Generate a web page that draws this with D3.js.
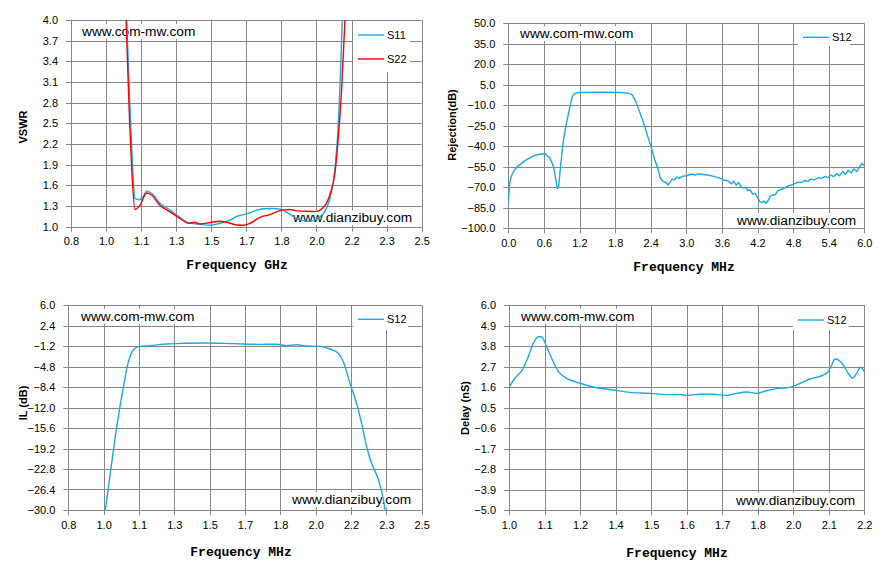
<!DOCTYPE html>
<html>
<head>
<meta charset="utf-8">
<script src="https://cdn.jsdelivr.net/npm/d3@7/dist/d3.min.js"></script>
<style>
  body { margin: 0; background: #fff; }
  text { font-family: "Liberation Sans", Arial, sans-serif; }
</style>
</head>
<body>
<svg id="chart"></svg>
<script>
const width = 884;
const height = 572;

// ---- tick values / labels ----
const ghzTicks = [0.8, 0.97, 1.14, 1.31, 1.48, 1.65, 1.82, 1.99, 2.16, 2.33, 2.5];
const ghzLabels = ["0.8", "1.0", "1.1", "1.3", "1.5", "1.7", "1.8", "2.0", "2.2", "2.3", "2.5"];
const vswrTicks = [1.0, 1.3, 1.6, 1.9, 2.2, 2.5, 2.8, 3.1, 3.4, 3.7, 4.0];

const rejXTicks = [0, 0.6, 1.2, 1.8, 2.4, 3.0, 3.6, 4.2, 4.8, 5.4, 6.0];
const rejYTicks = [-100, -85, -70, -55, -40, -25, -10, 5, 20, 35, 50];

const ilYTicks = [-30, -26.4, -22.8, -19.2, -15.6, -12, -8.4, -4.8, -1.2, 2.4, 6];

const delayXTicks = [1.0, 1.12, 1.24, 1.36, 1.48, 1.6, 1.72, 1.84, 1.96, 2.08, 2.2];
const delayXLabels = ["1.0", "1.1", "1.2", "1.4", "1.5", "1.6", "1.7", "1.8", "2.0", "2.1", "2.2"];
const delayYTicks = [-5, -3.9, -2.8, -1.7, -0.6, 0.5, 1.6, 2.7, 3.8, 4.9, 6];

// ---- VSWR (GHz) ----
const s11Freq = [1.070, 1.085, 1.097, 1.110, 1.130, 1.150, 1.167, 1.191, 1.231, 1.280, 1.328, 1.369, 1.425, 1.474,
  1.522, 1.571, 1.603, 1.652, 1.700, 1.732, 1.780, 1.813, 1.862, 1.910, 1.959, 2.007, 2.040, 2.064, 2.080, 2.096, 2.106, 2.115];
const s11Vswr = [4.0, 2.8, 1.97, 1.41, 1.39, 1.44, 1.52, 1.485, 1.34, 1.24, 1.135, 1.06, 1.035, 1.02,
  1.05, 1.095, 1.15, 1.185, 1.24, 1.26, 1.265, 1.255, 1.18, 1.095, 1.08, 1.14, 1.28, 1.52, 1.86, 2.5, 3.2, 4.0];

const s22Freq = [1.067, 1.083, 1.095, 1.110, 1.134, 1.167, 1.190, 1.231, 1.280, 1.328, 1.369, 1.401, 1.425, 1.474,
  1.522, 1.555, 1.603, 1.635, 1.668, 1.716, 1.765, 1.822, 1.862, 1.894, 1.943, 1.983, 2.023, 2.056, 2.080, 2.096, 2.112, 2.128];
const s22Vswr = [4.0, 2.6, 1.8, 1.25, 1.31, 1.49, 1.46, 1.31, 1.215, 1.12, 1.05, 1.065, 1.04, 1.06,
  1.08, 1.065, 1.025, 1.02, 1.05, 1.135, 1.175, 1.24, 1.25, 1.23, 1.225, 1.22, 1.28, 1.475, 1.79, 2.3, 3.0, 4.0];

// ---- Rejection (S12) ----
const rejFreq = [0.00, 0.02, 0.05, 0.10, 0.17, 0.28, 0.42, 0.53, 0.62, 0.70, 0.76, 0.80, 0.825, 0.85, 0.88, 0.925,
  0.98, 1.04, 1.08, 1.12, 1.21, 1.54, 1.88, 2.02, 2.09, 2.16, 2.22, 2.28, 2.36, 2.41, 2.47, 2.52, 2.56, 2.60,
  2.66, 2.69, 2.73, 2.76, 2.80, 2.84, 2.88, 2.94, 3.00, 3.06, 3.11, 3.15, 3.20, 3.28, 3.36, 3.45, 3.52, 3.58,
  3.64, 3.70, 3.76, 3.80, 3.84, 3.88, 3.92, 3.96, 4.00, 4.04, 4.08, 4.12, 4.16, 4.20, 4.24, 4.28, 4.31, 4.34,
  4.38, 4.42, 4.46, 4.50, 4.54, 4.58, 4.64, 4.70, 4.76, 4.82, 4.88, 4.94, 5.00, 5.05, 5.10, 5.16, 5.22, 5.28,
  5.34, 5.38, 5.44, 5.48, 5.54, 5.58, 5.64, 5.68, 5.73, 5.78, 5.82, 5.87, 5.92, 5.96, 6.00];
const rejS12 = [-82, -68, -62, -57.5, -54.3, -50.5, -47.2, -45.6, -45.5, -48.5, -54.5, -64, -71, -69, -55, -37,
  -23, -11, -3.5, -1.1, -0.6, -0.4, -0.6, -1.1, -2.3, -8.4, -15.7, -23, -34, -41, -50, -56, -63, -65.5,
  -66.5, -68.4, -66, -64, -64.5, -62.5, -63.5, -61.8, -61.5, -60.8, -60.3, -61, -60.2, -60.6, -61, -61.8, -62.8, -63.5,
  -64.8, -65.2, -67.5, -65.5, -68.5, -66.5, -69.5, -70.5, -70, -72.5, -72, -75, -74.5, -77.5, -80.5, -81, -80, -81.8,
  -79.5, -76.5, -75.5, -75.5, -72.5, -71.8, -71, -69.2, -68.5, -67.5, -66.2, -66.5, -65, -65.5, -64, -64.5, -63, -63.5,
  -62, -63, -61, -62.3, -60, -61.5, -58.5, -60.5, -57.5, -59.5, -56.5, -58.5, -55, -52.5, -54];

// ---- Insertion loss (S12) ----
const ilFreq = [0.978, 1.0, 1.033, 1.068, 1.089, 1.113, 1.137, 1.193, 1.273, 1.353, 1.466, 1.594, 1.722, 1.802,
  1.850, 1.899, 1.947, 2.011, 2.059, 2.099, 2.123, 2.155, 2.187, 2.211, 2.235, 2.259, 2.292, 2.316, 2.324];
const ilS12 = [-30, -24.1, -15.4, -7.8, -4.0, -1.9, -1.3, -1.14, -0.85, -0.73, -0.67, -0.79, -0.91, -0.9,
  -1.14, -0.97, -1.2, -1.26, -1.73, -2.49, -3.95, -7.76, -11.3, -14.8, -18.9, -21.8, -24.7, -28.2, -30];

// ---- Group delay (S12) ----
const delayFreq = [1.0, 1.02, 1.046, 1.065, 1.082, 1.099, 1.11, 1.127, 1.144, 1.167, 1.189, 1.24, 1.296, 1.352,
  1.409, 1.476, 1.532, 1.577, 1.6, 1.645, 1.69, 1.735, 1.769, 1.803, 1.836, 1.87, 1.904, 1.949, 1.983, 2.016,
  2.061, 2.078, 2.09, 2.101, 2.112, 2.129, 2.146, 2.161, 2.174, 2.188, 2.2];
const delayS12 = [1.58, 2.07, 2.55, 3.23, 3.94, 4.30, 4.30, 3.76, 3.14, 2.42, 2.12, 1.80, 1.56, 1.44,
  1.31, 1.26, 1.19, 1.19, 1.15, 1.21, 1.21, 1.15, 1.26, 1.33, 1.26, 1.40, 1.51, 1.58, 1.80, 2.03,
  2.24, 2.42, 2.78, 3.10, 3.05, 2.78, 2.33, 2.07, 2.33, 2.66, 2.42];

const blue = "#1aa9e4";
const red = "#ff0000";
const gridColor = "#868686";

const svg = d3.select("#chart").attr("width", width).attr("height", height);
svg.append("rect").attr("width", width).attr("height", height).attr("fill", "#fff");

const zip = (xs, ys) => xs.map((d, i) => [d, ys[i]]);

const panels = [
  {
    id: "vswr", left: 71, right: 421.7, top: 20, bottom: 226.7,
    xDomain: [0.8, 2.5], yDomain: [1, 4],
    xTicks: ghzTicks, xLabels: ghzLabels, yTicks: vswrTicks, yFmt: d3.format(".1f"),
    xTitle: "Frequency GHz", xTitlePos: [237, 269], yTitle: "VSWR", yTitlePos: [23, 127],
    series: [
      { name: "S11", data: zip(s11Freq, s11Vswr), color: blue, curve: d3.curveMonotoneX },
      { name: "S22", data: zip(s22Freq, s22Vswr), color: red, curve: d3.curveMonotoneX }
    ],
    legend: { x: 353, y: 21, w: 57, h: 51, rows: [35, 59] },
    mark1: [82, 31], mark2: [293, 217.5]
  },
  {
    id: "rej", left: 508.3, right: 864.3, top: 23.3, bottom: 228.3,
    xDomain: [0, 6], yDomain: [-100, 50],
    xTicks: rejXTicks, xLabels: rejXTicks.map(d3.format(".1f")), yTicks: rejYTicks, yFmt: d3.format(".1f"),
    xTitle: "Frequency MHz", xTitlePos: [684, 271], yTitle: "Rejection(dB)", yTitlePos: [452, 125],
    series: [
      { name: "S12", data: zip(rejFreq, rejS12), color: blue, curve: d3.curveLinear }
    ],
    legend: { x: 798, y: 24, w: 52, h: 22, rows: [37.3] },
    mark1: [520, 33.3], mark2: [737, 220]
  },
  {
    id: "il", left: 68.3, right: 421.7, top: 305, bottom: 510,
    xDomain: [0.8, 2.5], yDomain: [-30, 6],
    xTicks: ghzTicks, xLabels: ghzLabels, yTicks: ilYTicks, yFmt: d3.format(".1f"),
    xTitle: "Frequency MHz", xTitlePos: [241, 556], yTitle: "IL (dB)", yTitlePos: [23, 403],
    series: [
      { name: "S12", data: zip(ilFreq, ilS12), color: blue, curve: d3.curveMonotoneX }
    ],
    legend: { x: 353, y: 306, w: 55, h: 24, rows: [319.3] },
    mark1: [81, 316], mark2: [292, 499.5]
  },
  {
    id: "delay", left: 509, right: 864.3, top: 305, bottom: 510,
    xDomain: [1.0, 2.2], yDomain: [-5, 6],
    xTicks: delayXTicks, xLabels: delayXLabels, yTicks: delayYTicks, yFmt: d3.format(".1f"),
    xTitle: "Frequency MHz", xTitlePos: [677, 557], yTitle: "Delay (nS)", yTitlePos: [465, 408],
    series: [
      { name: "S12", data: zip(delayFreq, delayS12), color: blue, curve: d3.curveMonotoneX }
    ],
    legend: { x: 793, y: 306, w: 56, h: 24, rows: [320] },
    mark1: [521, 316], mark2: [736, 500]
  }
];

panels.forEach(drawPanel);

function drawPanel(p) {
  const x = d3.scaleLinear().domain(p.xDomain).range([p.left, p.right]);
  const y = d3.scaleLinear().domain(p.yDomain).range([p.bottom, p.top]);
  const g = svg.append("g").attr("class", "panel-" + p.id);

  // grid (with small outside ticks)
  g.append("g").selectAll("line.vx")
    .data(p.xTicks)
    .enter().append("line")
    .attr("x1", d => Math.round(x(d)) + 0.5).attr("x2", d => Math.round(x(d)) + 0.5)
    .attr("y1", p.top).attr("y2", p.bottom + 5)
    .attr("stroke", gridColor).attr("stroke-width", 1);

  g.append("g").selectAll("line.hy")
    .data(p.yTicks)
    .enter().append("line")
    .attr("x1", p.left - 5).attr("x2", p.right)
    .attr("y1", d => Math.round(y(d)) + 0.5).attr("y2", d => Math.round(y(d)) + 0.5)
    .attr("stroke", gridColor).attr("stroke-width", 1);

  // tick labels through d3 axes
  const xAxis = g.append("g")
    .attr("transform", `translate(0,${p.bottom})`)
    .call(d3.axisBottom(x).tickValues(p.xTicks).tickFormat((d, i) => p.xLabels[i]).tickSize(0).tickPadding(11));
  const yAxis = g.append("g")
    .attr("transform", `translate(${p.left},0)`)
    .call(d3.axisLeft(y).tickValues(p.yTicks).tickFormat(p.yFmt).tickSize(0).tickPadding(13));
  [xAxis, yAxis].forEach(a => {
    a.select(".domain").remove();
    a.selectAll("text").attr("fill", "#000").style("font-size", "11px")
      .style("font-family", "'Liberation Sans', Arial, sans-serif");
  });

  // watermarks with white backing
  [[p.mark1, "www.com-mw.com"], [p.mark2, "www.dianzibuy.com"]].forEach(([pos, label]) => {
    const t = g.append("text")
      .attr("x", pos[0]).attr("y", pos[1]).attr("dy", "0.35em")
      .style("font-size", "13.7px").attr("fill", "#000")
      .text(label);
    const bb = t.node().getBBox();
    g.insert("rect", () => t.node())
      .attr("x", bb.x - 2).attr("y", bb.y).attr("width", bb.width + 4).attr("height", bb.height)
      .attr("fill", "#fff");
  });

  // curves
  const clipId = "clip-" + p.id;
  svg.append("clipPath").attr("id", clipId)
    .append("rect").attr("x", p.left).attr("y", p.top - 1)
    .attr("width", p.right - p.left).attr("height", p.bottom - p.top + 2);

  p.series.forEach(s => {
    const line = d3.line().x(d => x(d[0])).y(d => y(d[1])).curve(s.curve);
    g.append("path")
      .datum(s.data)
      .attr("clip-path", `url(#${clipId})`)
      .attr("fill", "none")
      .attr("stroke", s.color)
      .attr("stroke-width", 1.4)
      .attr("stroke-linejoin", "round")
      .attr("d", line);
  });

  // legend
  const lg = g.append("g").attr("class", "legend");
  lg.append("rect")
    .attr("x", p.legend.x).attr("y", p.legend.y)
    .attr("width", p.legend.w).attr("height", p.legend.h)
    .attr("fill", "#fff");
  p.series.forEach((s, i) => {
    const ly = p.legend.rows[i];
    lg.append("line")
      .attr("x1", p.legend.x + 5).attr("x2", p.legend.x + 31)
      .attr("y1", ly).attr("y2", ly)
      .attr("stroke", s.color).attr("stroke-width", 1.4);
    lg.append("text")
      .attr("x", p.legend.x + 34).attr("y", ly).attr("dy", "0.35em")
      .style("font-size", "11px").attr("fill", "#000")
      .text(s.name);
  });

  // axis titles
  g.append("text")
    .attr("x", p.xTitlePos[0]).attr("y", p.xTitlePos[1])
    .attr("text-anchor", "middle")
    .style("font-family", "'Liberation Mono', 'DejaVu Sans Mono', monospace")
    .style("font-weight", "bold").style("font-size", "13px")
    .text(p.xTitle);

  g.append("text")
    .attr("transform", `translate(${p.yTitlePos[0]},${p.yTitlePos[1]}) rotate(-90)`)
    .attr("text-anchor", "middle").attr("dy", "0.35em")
    .style("font-weight", "bold").style("font-size", "11px")
    .text(p.yTitle);
}
</script>
</body>
</html>
